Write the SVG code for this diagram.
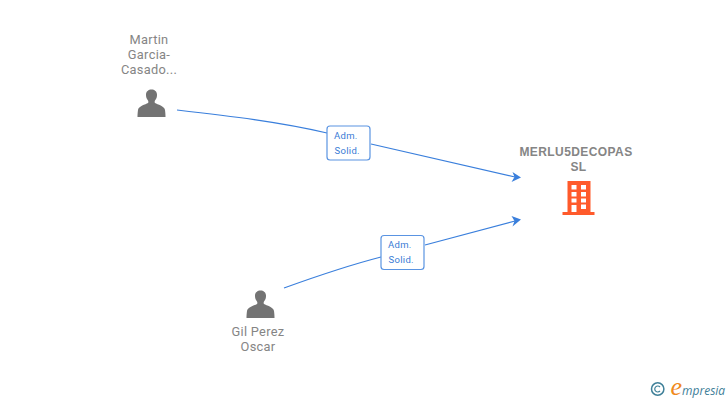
<svg xmlns="http://www.w3.org/2000/svg" width="728" height="400" viewBox="0 0 728 400">
<defs>
<style>
text{font-family:Roboto,"Liberation Sans",sans-serif}
.n{font-size:12.8px;fill:#858585;text-anchor:middle;letter-spacing:.3px}
.b{font-family:"Liberation Sans",Arial,sans-serif;font-size:12px;font-weight:700;fill:#858585;text-anchor:middle;letter-spacing:.42px}
.l{font-size:9.5px;fill:#3a7bd5;letter-spacing:.3px}
.e{fill:none;stroke:#3a7fdc;stroke-width:1.2}
.a{fill:#3a7fdc}
.p{fill:#737373}
.r{fill:#fff;stroke:#5a94e2;stroke-width:1.2}
.w{fill:#3f8099}
</style>
<path id="person" d="M-3.500,-3.500C-5.500,-6 -5.500,-8 -5.500,-9.500C-5.500,-12.500 -3,-14.500 0,-14.500C3,-14.500 5.500,-12.500 5.500,-9.500C5.500,-8 5.500,-6 3.500,-3.500C3,-2.500 3,-1.500 3.500,-1C6,0.500 13,2 13.500,6C13.800,8 14,11 14,13L-14,13C-14,11 -13.800,8 -13.500,6C-13,2 -6,0.500 -3.500,-1C-3,-1.500 -3,-2.500 -3.500,-3.500Z"/>
</defs>
<rect width="728" height="400" fill="#fff"/>
<g id="connectors">
<path class="e" d="M177,110C230,116 280,122 327,133"/>
<path class="e" d="M371,144L515,177"/>
<path class="a" d="M521,177.500L512.500,172L514.500,177L511.500,182Z"/>
<path class="e" d="M284,288C320,275 350,265 381,257"/>
<path class="e" d="M425,245L515,221"/>
<path class="a" d="M521,219.500L511.500,216L514.500,221L512.500,226.500Z"/>
</g>
<g id="edge-label-1">
<rect class="r" x="327" y="126" width="43" height="34" rx="3"/>
<text class="l" x="334" y="139">Adm.</text>
<text class="l" x="334.500" y="154">Solid.</text>
</g>
<g id="edge-label-2">
<rect class="r" x="381" y="235.500" width="43" height="34" rx="3"/>
<text class="l" x="388" y="248">Adm.</text>
<text class="l" x="388.500" y="263">Solid.</text>
</g>
<g id="node-martin">
<text class="n" x="149" y="44">Martin</text>
<text class="n" x="149" y="59">Garcia-</text>
<text class="n" x="149" y="74">Casado...</text>
<use href="#person" class="p" x="151.500" y="104"/>
</g>
<g id="node-gil">
<text class="n" x="258" y="336">Gil Perez</text>
<text class="n" x="258" y="351">Oscar</text>
<use href="#person" class="p" x="260.500" y="305"/>
</g>
<g id="node-merlu">
<text class="b" x="576" y="156">MERLU5DECOPAS</text>
<text class="b" x="578.500" y="171">SL</text>
<path fill="#ff5a2b" fill-rule="evenodd" d="M567.500,181H590.500V212H594.500V215H562.500V212H567.500ZM571.500,185V189.500H576.500V185ZM581,185V189.500H586V185ZM571.500,192V196.500H576.500V192ZM581,192V196.500H586V192ZM571.500,198.500V202.500H576.500V198.500ZM581,198.500V202.500H586V198.500ZM571.500,205V212H576.500V205ZM581,204.500V209H586V204.500Z"/>
</g>
<g id="watermark">
<circle cx="657.700" cy="389" r="6.200" fill="none" stroke="#3f8099" stroke-width="1.500"/>
<path d="M660,387A3,3 0 1 0 660,391" fill="none" stroke="#3f8099" stroke-width="1.200"/>
<text x="670.500" y="394.500" font-style="italic" style="font-family:'Open Sans',sans-serif"><tspan font-size="26" fill="#f08a1d" style="font-family:'Liberation Serif',serif">e</tspan><tspan class="w" font-size="12">mpresia</tspan></text>
</g>
</svg>
